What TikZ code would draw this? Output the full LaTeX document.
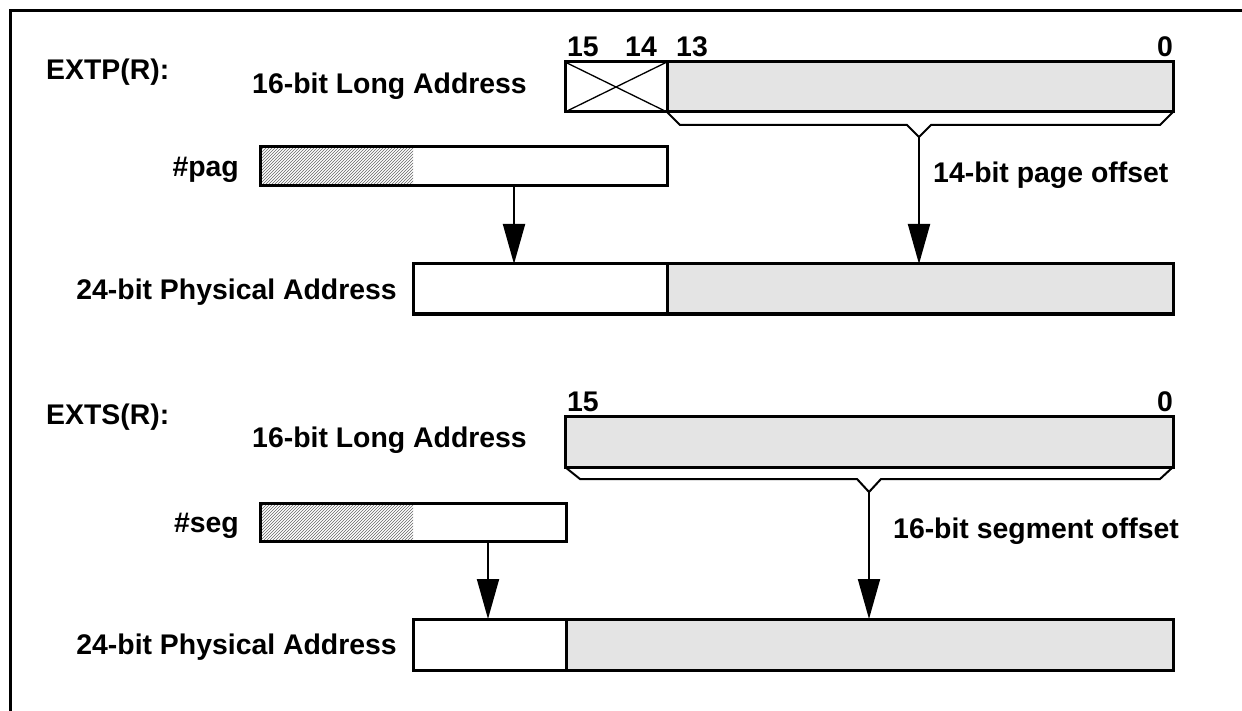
\documentclass[tikz,border=0pt]{standalone}
\usepackage{fontspec}
\setmainfont{Liberation Sans}
\usetikzlibrary{arrows.meta,patterns}
\definecolor{boxgray}{HTML}{E4E4E4}
\begin{document}
\begin{tikzpicture}[x=1pt,y=-1pt,
  lbl/.style={inner sep=0pt, font=\fontsize{28.4}{34}\selectfont\bfseries},
  boxline/.style={draw=black, line width=3pt},
  grayfill/.style={fill=boxgray},
  hatchfill/.style={pattern=north east lines, pattern color=black!60},
  braceline/.style={draw=black, line width=2pt, line join=miter},
  xline/.style={draw=black, line width=1.3pt},
  conn/.style={draw=black, line width=2pt, -{Triangle[length=40pt,width=22pt]}},
  frameline/.style={draw=black, line width=3pt}]
\useasboundingbox (0,0) rectangle (1242,711);
\fill[white] (0,0) rectangle (1242,711);
% frame
\draw[frameline] (10,711) -- (10,11) -- (1242,11);

% ================= EXTP(R) =================
\node[lbl, anchor=base west] (extp) at (46,80) {EXTP(R):};
\node[lbl, anchor=base east] (la1) at (527,94) {16-bit Long Address};
\node[lbl, anchor=base west] (b15a) at (567,57) {15};
\node[lbl, anchor=base] (b14a) at (641,57) {14};
\node[lbl, anchor=base] (b13a) at (692,57) {13};
\node[lbl, anchor=base east] (b0a) at (1173,57) {0};
% long address box
\fill[grayfill] (667,62) rectangle (1173,112);
\draw[xline] (565,62) -- (667,112) (565,112) -- (667,62);
\draw[boxline] (565,62) rectangle (1173,112);
\draw[boxline] (667,62) -- (667,112);
% brace
\coordinate (bra1) at (919,137);
\draw[braceline] (667,112) -- (680,125) -- (907,125) -- (bra1) -- (931,125) -- (1160,125) -- (1173,112);
% #pag
\node[lbl, anchor=base east] (pag) at (239,177) {\#pag};
\fill[hatchfill] (260,147) rectangle (413,186);
\draw[boxline] (260,147) rectangle (667,186);
\coordinate (pagout) at (514,186);
% 14-bit page offset
\node[lbl, anchor=base west] (off1) at (933,183) {14-bit page offset};
% physical address
\node[lbl, anchor=base east] (pa1) at (397,299) {24-bit Physical Address};
\fill[grayfill] (667,264) rectangle (1173,314);
\draw[boxline] (413,264) rectangle (1173,314);
\draw[boxline] (667,264) -- (667,314);
\coordinate (pin1a) at (514,264);
\coordinate (pin1b) at (919,264);
\draw[conn] (pagout) -- (pin1a);
\draw[conn] (bra1) -- (pin1b);

% ================= EXTS(R) =================
\node[lbl, anchor=base west] (exts) at (46,424) {EXTS(R):};
\node[lbl, anchor=base east] (la2) at (527,447) {16-bit Long Address};
\node[lbl, anchor=base west] (b15b) at (567,411) {15};
\node[lbl, anchor=base east] (b0b) at (1173,411) {0};
\fill[grayfill] (565,416) rectangle (1173,467);
\draw[boxline] (565,416) rectangle (1173,467);
% brace
\coordinate (bra2) at (869,492);
\draw[braceline] (565,467) -- (580,479) -- (857,479) -- (bra2) -- (881,479) -- (1160,479) -- (1173,467);
% #seg
\node[lbl, anchor=base east] (seg) at (239,532) {\#seg};
\fill[hatchfill] (260,503) rectangle (413,541);
\draw[boxline] (260,503) rectangle (566,541);
\coordinate (segout) at (488,541);
% 16-bit segment offset
\node[lbl, anchor=base west] (off2) at (893,538) {16-bit segment offset};
% physical address
\node[lbl, anchor=base east] (pa2) at (397,654) {24-bit Physical Address};
\fill[grayfill] (566,619) rectangle (1173,670);
\draw[boxline] (413,619) rectangle (1173,670);
\draw[boxline] (566,619) -- (566,670);
\coordinate (pin2a) at (488,619);
\coordinate (pin2b) at (869,619);
\draw[conn] (segout) -- (pin2a);
\draw[conn] (bra2) -- (pin2b);
\end{tikzpicture}
\end{document}
